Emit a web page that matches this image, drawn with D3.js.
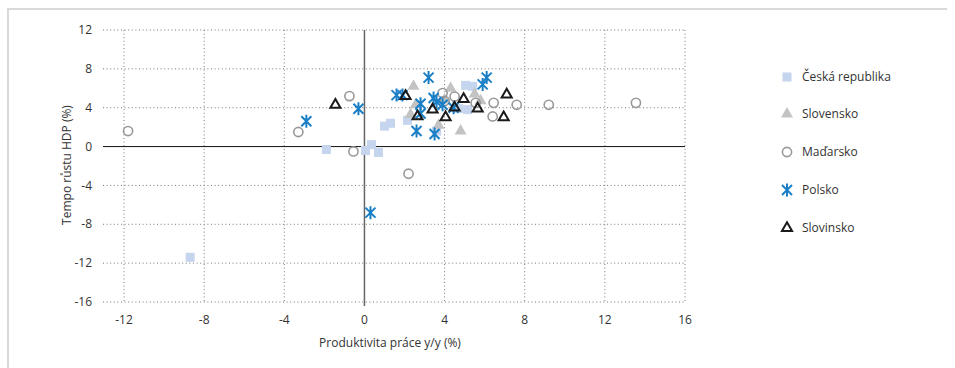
<!DOCTYPE html>
<html>
<head>
<meta charset="utf-8">
<script src="https://cdn.jsdelivr.net/npm/d3@7"></script>
<style>
  body { margin: 0; background: #fff; }
  svg text { font-family: "Open Sans", "Noto Sans", sans-serif; fill: #333; }
</style>
</head>
<body>
<script>
// chart data: [productivity y/y, GDP growth]
const seriesNames = ['Česká republika', 'Slovensko', 'Maďarsko', 'Polsko', 'Slovinsko'];

const cz = [[-8.7, -11.4], [-1.9, -0.3], [0.05, -0.4], [0.35, 0.2], [0.7, -0.6], [1.0, 2.1],
  [1.3, 2.4], [2.15, 2.7], [3.6, 1.6], [5.05, 6.3], [5.4, 6.2], [5.15, 3.8], [4.7, 3.9]];
const sk = [[2.45, 6.2], [4.3, 6.0], [4.8, 1.6], [3.7, 2.2], [5.5, 5.4], [5.8, 4.7],
  [2.55, 4.3], [2.3, 3.3], [4.0, 4.8]];
const hu = [[-11.8, 1.6], [-3.3, 1.5], [-0.75, 5.2], [-0.55, -0.5], [2.2, -2.8], [3.9, 5.5],
  [4.5, 5.15], [4.0, 4.7], [5.55, 4.5], [6.45, 4.5], [7.6, 4.3], [9.2, 4.3], [13.55, 4.5], [6.4, 3.1]];
const pl = [[-2.9, 2.6], [-0.3, 3.9], [0.3, -6.8], [1.6, 5.3], [1.9, 5.3], [2.8, 4.4], [2.8, 3.4],
  [2.6, 1.6], [3.5, 1.3], [3.2, 7.1], [3.45, 5.0], [3.6, 4.6], [4.45, 4.0], [3.9, 4.3], [5.9, 6.4], [6.1, 7.1]];
const si = [[-1.45, 4.3], [2.05, 5.2], [2.65, 3.1], [3.4, 3.8], [4.05, 3.0], [4.5, 4.0],
  [4.95, 4.9], [5.65, 3.9], [7.1, 5.35], [6.95, 3.0]];

const xTicks = [-12, -8, -4, 0, 4, 8, 12, 16];
const yTicks = [-16, -12, -8, -4, 0, 4, 8, 12];

const width = 955, height = 368;

const svg = d3.select('body').append('svg')
  .attr('width', width)
  .attr('height', height);

// light frame
svg.append('path')
  .attr('d', 'M8,368 L8,9 L947,9')
  .attr('fill', 'none')
  .attr('stroke', '#d9d9d9')
  .attr('stroke-width', 2);

const x = d3.scaleLinear().domain([-13.05, 16]).range([103, 685]);
const y = d3.scaleLinear().domain([-16, 12]).range([302, 30]);

// gridlines
const grid = svg.append('g').attr('class', 'grid')
  .attr('stroke', '#777')
  .attr('stroke-width', 1)
  .attr('stroke-dasharray', '1,2.6');

grid.selectAll('line.h')
  .data(yTicks.filter(d => d !== 0))
  .enter().append('line')
  .attr('x1', x.range()[0]).attr('x2', x.range()[1])
  .attr('y1', d => y(d)).attr('y2', d => y(d));

grid.selectAll('line.v')
  .data(xTicks.filter(d => d !== 0))
  .enter().append('line')
  .attr('x1', d => x(d)).attr('x2', d => x(d))
  .attr('y1', y(12)).attr('y2', y(-16));

// axis lines
svg.append('line')
  .attr('x1', x(0)).attr('x2', x(0))
  .attr('y1', y(12)).attr('y2', y(-16) + 4)
  .attr('stroke', '#666').attr('stroke-width', 1.5);

svg.append('line')
  .attr('x1', x.range()[0]).attr('x2', x.range()[1])
  .attr('y1', y(0)).attr('y2', y(0))
  .attr('stroke', '#111').attr('stroke-width', 1);

// tick labels
svg.append('g').selectAll('text')
  .data(yTicks)
  .enter().append('text')
  .attr('x', 92)
  .attr('y', d => y(d))
  .attr('dy', '0.35em')
  .attr('text-anchor', 'end')
  .attr('font-size', 12)
  .text(d => d);

svg.append('g').selectAll('text')
  .data(xTicks)
  .enter().append('text')
  .attr('x', d => x(d))
  .attr('y', 320)
  .attr('dy', '0.35em')
  .attr('text-anchor', 'middle')
  .attr('font-size', 12)
  .text(d => d);

// axis titles
svg.append('text')
  .attr('x', 390)
  .attr('y', 343)
  .attr('dy', '0.35em')
  .attr('text-anchor', 'middle')
  .attr('font-size', 12)
  .text('Produktivita práce y/y (%)');

svg.append('text')
  .attr('transform', 'translate(67,165) rotate(-90)')
  .attr('dy', '0.35em')
  .attr('text-anchor', 'middle')
  .attr('font-size', 12)
  .text('Tempo růstu HDP (%)');

// marker styles
const starPath = 'M-5,-5L5,5M-5,5L5,-5M0,-6.5L0,6.5';
const styles = [
  { data: cz, draw: g => g.append('rect').attr('x', -4.5).attr('y', -4.5).attr('width', 9).attr('height', 9).attr('fill', '#c5d5ee') },
  { data: sk, draw: g => g.append('path').attr('d', d3.symbol(d3.symbolTriangle, 62)).attr('fill', '#c3c3c3') },
  { data: hu, draw: g => g.append('circle').attr('r', 4.6).attr('fill', 'none').attr('stroke', '#999').attr('stroke-width', 1.6) },
  { data: pl, draw: g => g.append('path').attr('d', starPath).attr('fill', 'none').attr('stroke', '#1b7fc6').attr('stroke-width', 2) },
  { data: si, draw: g => g.append('path').attr('d', d3.symbol(d3.symbolTriangle, 44)).attr('fill', 'none').attr('stroke', '#1a1a1a').attr('stroke-width', 2) }
];

styles.forEach(s => {
  const pts = svg.append('g').selectAll('g')
    .data(s.data)
    .enter().append('g')
    .attr('transform', d => `translate(${x(d[0])},${y(d[1])})`);
  s.draw(pts);
});

// legend
const legendY = [77, 114, 152, 190, 228];
seriesNames.forEach((name, i) => {
  const g = svg.append('g').attr('transform', `translate(787,${legendY[i]})`);
  styles[i].draw(g);
  svg.append('text')
    .attr('x', 802)
    .attr('y', legendY[i])
    .attr('dy', '0.35em')
    .attr('font-size', 12)
    .text(name);
});
</script>
</body>
</html>
